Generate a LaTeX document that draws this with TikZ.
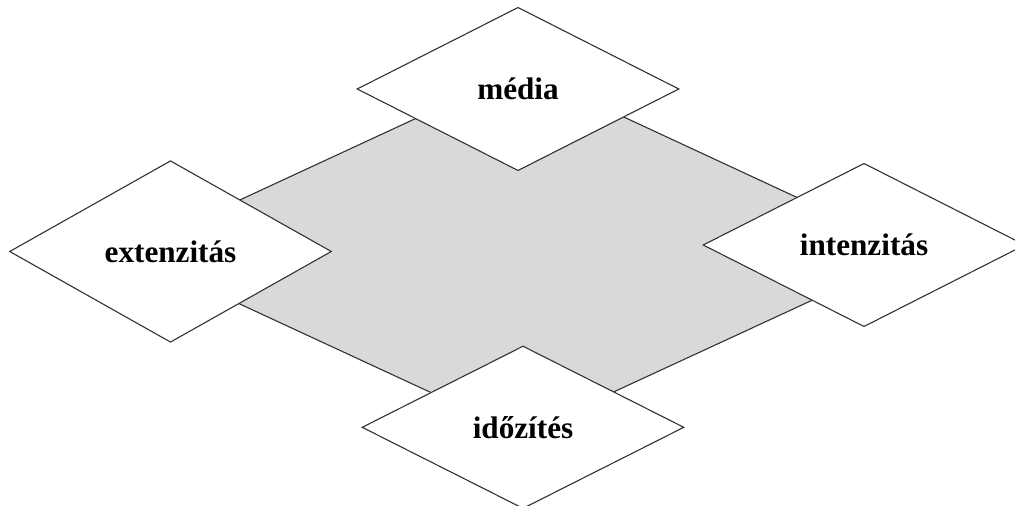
\documentclass[tikz,border=0pt]{standalone}
\usepackage{fontspec}
\setmainfont{Liberation Serif}
\usetikzlibrary{shapes.geometric}
\definecolor{planegray}{RGB}{217,217,217}
\definecolor{edgecol}{RGB}{50,50,50}
\begin{document}
\begin{tikzpicture}[x=0.5pt,y=-0.5pt,
  dim/.style={diamond, draw=edgecol, fill=white, line width=0.55pt, inner sep=0pt,
    font=\fontsize{15.6}{18}\selectfont\bfseries, minimum width=161pt},
  plane/.style={fill=planegray, draw=edgecol, line width=0.55pt}]
\useasboundingbox (0,0) rectangle (1015,506);
\clip (0,0) rectangle (1015,506);
\coordinate (pt) at (521.5,69.5);
\coordinate (pr) at (915.5,252.5);
\coordinate (pb) at (521.5,434.5);
\coordinate (pl) at (127.5,252);
\filldraw[plane] (pt) -- (pr) -- (pb) -- (pl) -- cycle;
\node[dim, minimum height=81.7pt] (media) at (518,89) {média};
\node[dim, minimum height=90.8pt] (ext) at (170.5,251.5) {extenzitás};
\node[dim, minimum height=81.7pt] (int) at (864,245) {intenzitás};
\node[dim, minimum height=81.3pt] (ido) at (523,427.3) {időzítés};
\end{tikzpicture}
\end{document}
